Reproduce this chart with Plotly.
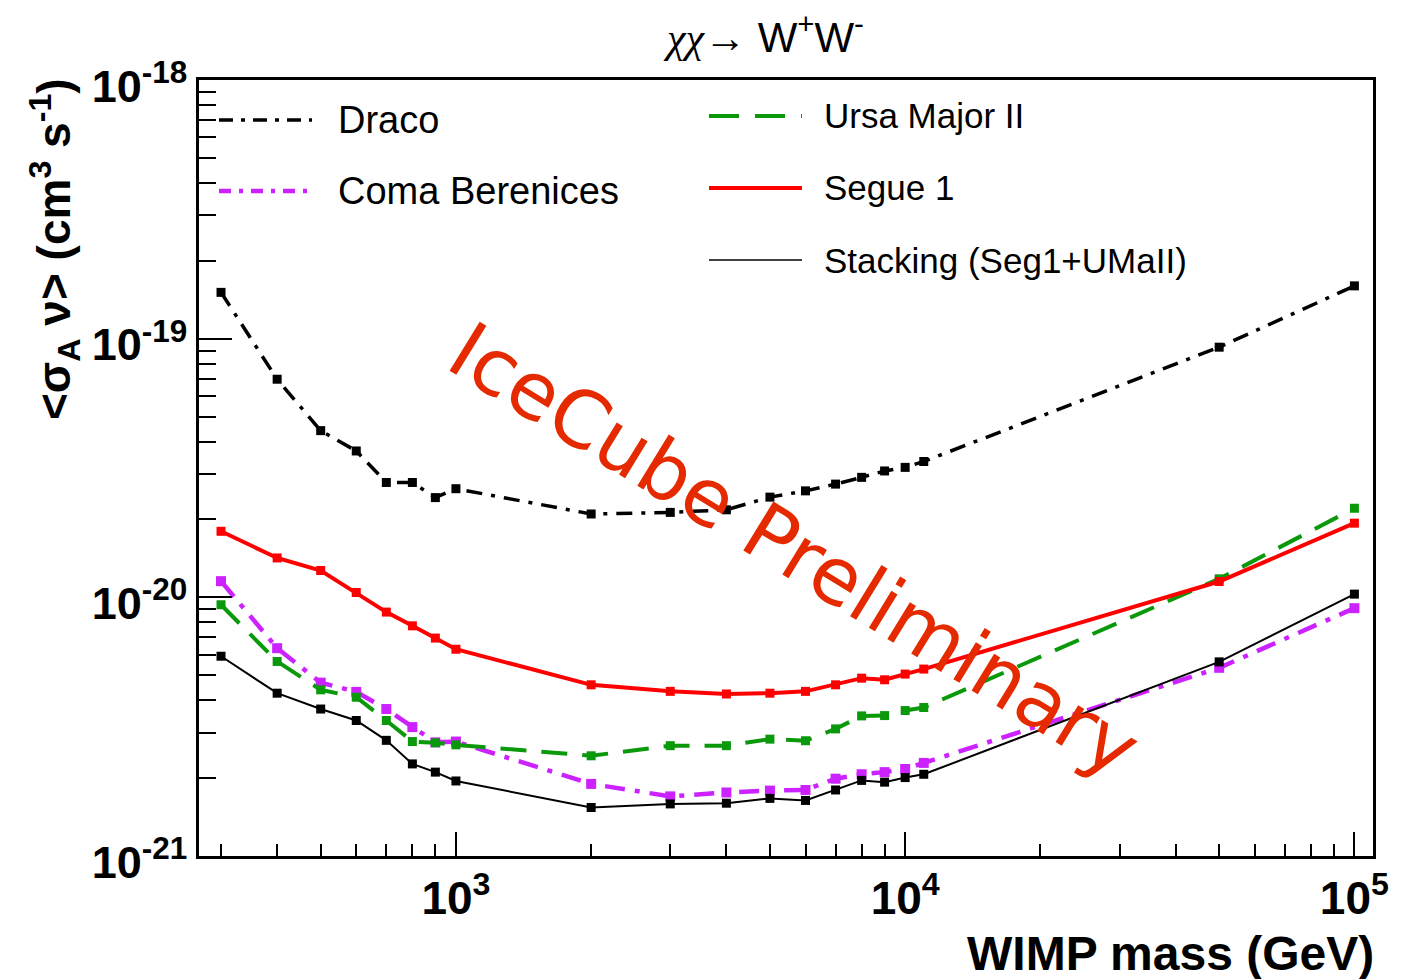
import plotly.graph_objects as go

# ---------------- data ----------------
mass = [300, 400, 500, 600, 700, 800, 900, 1000, 2000, 3000, 4000, 5000,
        6000, 7000, 8000, 9000, 10000, 11000, 50000, 100000]

draco = [1.51e-19, 6.97e-20, 4.41e-20, 3.68e-20, 2.78e-20, 2.78e-20, 2.43e-20,
         2.63e-20, 2.10e-20, 2.13e-20, 2.18e-20, 2.44e-20, 2.58e-20, 2.74e-20,
         2.91e-20, 3.08e-20, 3.18e-20, 3.35e-20, 9.27e-20, 1.60e-19]
coma = [1.155e-20, 6.36e-21, 4.68e-21, 4.31e-21, 3.70e-21, 3.15e-21, 2.75e-21,
        2.77e-21, 1.90e-21, 1.70e-21, 1.76e-21, 1.79e-21, 1.80e-21, 1.99e-21,
        2.07e-21, 2.11e-21, 2.17e-21, 2.29e-21, 5.34e-21, 9.08e-21]
uma2 = [9.36e-21, 5.65e-21, 4.39e-21, 4.11e-21, 3.34e-21, 2.77e-21, 2.74e-21,
        2.69e-21, 2.44e-21, 2.67e-21, 2.67e-21, 2.83e-21, 2.79e-21, 3.10e-21,
        3.48e-21, 3.49e-21, 3.65e-21, 3.75e-21, 1.179e-20, 2.21e-20]
segue = [1.80e-20, 1.42e-20, 1.27e-20, 1.044e-20, 8.77e-21, 7.76e-21, 6.96e-21,
         6.30e-21, 4.59e-21, 4.33e-21, 4.23e-21, 4.26e-21, 4.33e-21, 4.59e-21,
         4.87e-21, 4.80e-21, 5.05e-21, 5.28e-21, 1.151e-20, 1.935e-20]
stack = [5.92e-21, 4.26e-21, 3.70e-21, 3.34e-21, 2.80e-21, 2.27e-21, 2.11e-21,
         1.95e-21, 1.54e-21, 1.59e-21, 1.60e-21, 1.67e-21, 1.64e-21, 1.80e-21,
         1.96e-21, 1.93e-21, 2.01e-21, 2.07e-21, 5.63e-21, 1.029e-20]

x_major = [1e3, 1e4, 1e5]
x_major_labels = ["10<sup>3</sup>", "10<sup>4</sup>", "10<sup>5</sup>"]
y_major = [1e-21, 1e-20, 1e-19, 1e-18]
y_major_labels = ["10<sup>-21</sup>", "10<sup>-20</sup>", "10<sup>-19</sup>", "10<sup>-18</sup>"]
x_minor = [m * 10 ** e for e in (2, 3, 4) for m in range(2, 10)]
y_minor = [m * 10.0 ** e for e in (-21, -20, -19) for m in range(2, 10)]

# ---------------- styles ----------------
C_DRACO = "#000000"
C_COMA = "#cc22ff"
C_UMA = "#0a990a"
C_SEG = "#ff0000"
C_STACK = "#000000"
C_WM = "#e52a00"

series = [
    ("Draco", draco, C_DRACO, 3.5, "16px,9px,4px,9px", 9),
    ("Coma Berenices", coma, C_COMA, 4.5, "20px,10px,5px,10px", 10),
    ("Ursa Major II", uma2, C_UMA, 4, "26px,15px", 9),
    ("Segue 1", segue, C_SEG, 4, "solid", 9),
    ("Stacking (Seg1+UMaII)", stack, C_STACK, 2, "solid", 9),
]

fig = go.Figure()
for name, vals, col, w, dash, ms in series:
    fig.add_trace(go.Scatter(
        x=mass, y=vals, mode="lines+markers", name=name,
        line=dict(color=col, width=w, dash=dash),
        marker=dict(symbol="square", size=ms, color=col),
        showlegend=False,
    ))

W, H = 1416, 979
L, R, T, B = 199, 43, 80, 123
pw, ph = W - L - R, H - T - B


def px(x):
    return (x - L) / pw


def py(y):
    return (H - B - y) / ph


# legend (two columns, drawn as shapes + text)
legend_left = [("Draco", C_DRACO, 3.5, "14px,8px,4px,8px", 120),
               ("Coma Berenices", C_COMA, 4.5, "12px,8px,4px,8px", 191)]
legend_right = [("Ursa Major II", C_UMA, 4, "30px,16px", 116),
                ("Segue 1", C_SEG, 4, "solid", 188),
                ("Stacking (Seg1+UMaII)", C_STACK, 1.5, "solid", 260)]

shapes = []
annotations = []
for (items, x0, x1, xt, fs) in ((legend_left, 219, 312, 336, 38),
                                (legend_right, 709, 802, 822, 35)):
    for name, col, w, dash, yy in items:
        shapes.append(dict(type="line", xref="paper", yref="paper",
                           x0=px(x0), x1=px(x1), y0=py(yy), y1=py(yy),
                           line=dict(color=col, width=w, dash=dash)))
        annotations.append(dict(text=name, xref="paper", yref="paper",
                                x=px(xt), y=py(yy), xanchor="left", yanchor="middle",
                                showarrow=False,
                                font=dict(family="Liberation Sans", size=fs, color="black")))

# title
annotations.append(dict(
    text="<span style='font-family:Liberation Serif'><i>χχ</i></span>→ W<sup>+</sup>W<sup>-</sup>",
    xref="paper", yref="paper", x=px(763), y=py(34), xanchor="center", yanchor="middle",
    showarrow=False, font=dict(family="Liberation Sans", size=42, color="black")))

# y axis title
annotations.append(dict(
    text="&lt;σ<sub>A</sub> ν&gt; (cm<sup>3</sup> s<sup>-1</sup>)",
    xref="paper", yref="paper", x=px(54), y=py(249), xanchor="center", yanchor="middle",
    textangle=-90, showarrow=False,
    font=dict(family="Liberation Sans", size=46, color="black", weight="bold")))

# x axis title
annotations.append(dict(
    text="WIMP mass (GeV)", xref="paper", yref="paper", x=px(1376), y=py(953),
    xanchor="right", yanchor="middle", showarrow=False,
    font=dict(family="Liberation Sans", size=48, color="black", weight="bold")))

# watermark
annotations.append(dict(
    text="IceCube Preliminary", xref="paper", yref="paper", x=px(794), y=py(550),
    xanchor="center", yanchor="middle", textangle=31.5, showarrow=False,
    font=dict(family="DejaVu Sans", size=79, color=C_WM)))

fig.update_layout(
    width=W, height=H,
    margin=dict(l=L, r=R, t=T, b=B, pad=0),
    paper_bgcolor="white", plot_bgcolor="white",
    shapes=shapes, annotations=annotations,
    xaxis=dict(
        type="log", range=[2.4281, 5.0414],
        showline=True, linecolor="black", linewidth=2.5, mirror=True,
        showgrid=False, zeroline=False,
        ticks="inside", ticklen=24, tickwidth=1.5, tickcolor="black",
        tickmode="array", tickvals=x_major, ticktext=x_major_labels,
        tickfont=dict(family="Liberation Sans", size=46, color="black", weight="bold"),
        minor=dict(tickmode="array", tickvals=x_minor, ticks="inside",
                   ticklen=12, tickwidth=1.5, tickcolor="black", showgrid=False),
    ),
    yaxis=dict(
        type="log", range=[-21, -18],
        showline=True, linecolor="black", linewidth=2.5, mirror=True,
        showgrid=False, zeroline=False,
        ticks="inside", ticklen=33, tickwidth=1.5, tickcolor="black",
        tickmode="array", tickvals=y_major, ticktext=y_major_labels,
        ticklabelshift=6,
        tickfont=dict(family="Liberation Sans", size=45, color="black", weight="bold"),
        minor=dict(tickmode="array", tickvals=y_minor, ticks="inside",
                   ticklen=17, tickwidth=1.5, tickcolor="black", showgrid=False),
    ),
)

fig.write_html("out.html")
